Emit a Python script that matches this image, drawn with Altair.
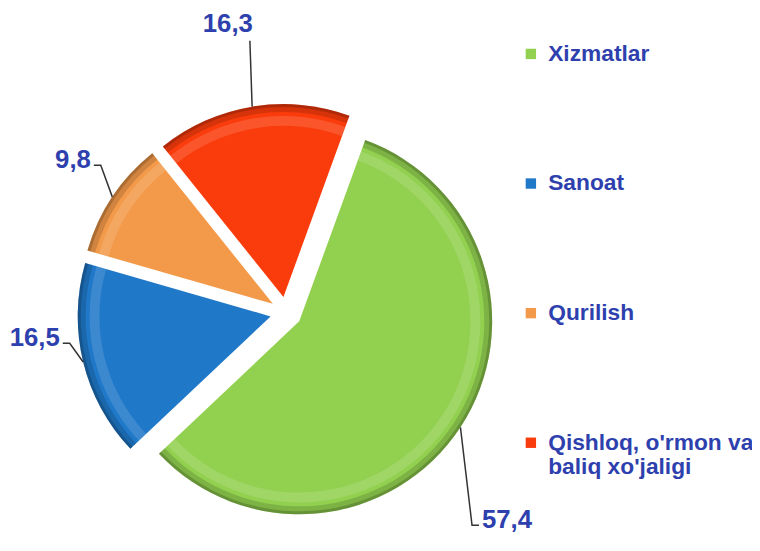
import math
import altair as alt
import pandas as pd

# ---- data -------------------------------------------------------------
categories = ["Xizmatlar", "Sanoat", "Qurilish", "Qishloq, o'rmon va baliq xo'jaligi"]
shares = [57.4, 16.5, 9.8, 16.3]
slice_colors = ["#92d050", "#1f78c8", "#f39a4a", "#fa3c0c"]

df = pd.DataFrame({"cat": categories, "share": shares,
                   "order": list(range(len(categories)))})
TOTAL = float(sum(shares))

# ---- layout -----------------------------------------------------------
W, H = 752, 543          # plot area (whole chart, autosize none)
CX, CY = 281, 305        # pie centre inside plot area
R = 195                  # pie radius
E = 16                   # explode distance
START = math.radians(20) # rotation of first slice
LABEL_COLOR = "#2e3fae"
FONT = "Liberation Sans"

xs = alt.Scale(domain=[-CX, W - CX], nice=False, zero=False)
ys = alt.Scale(domain=[-(H - CY), CY], nice=False, zero=False)
ts = alt.Scale(domain=[0, TOTAL], range=[START, START + 2 * math.pi])

base = (
    alt.Chart(df)
    .transform_window(cum="sum(share)", sort=[alt.SortField("order", order="ascending")],
                      frame=[None, 0])
    .transform_calculate(t0="datum.cum - datum.share")
    .transform_calculate(mid=f"{START} + 2*PI*(datum.t0 + datum.share/2)/{TOTAL}")
    .transform_calculate(s="sin(datum.mid)", c="cos(datum.mid)")
    .transform_calculate(
        ex=f"{E}*datum.s", ey=f"{E}*datum.c",
        side="abs(datum.s) < 0.35 ? 0 : (datum.s < 0 ? -1 : 1)",
        # leader elbow: rises for upper/side slices, drops for the low ones
        hx="14*datum.s",
        vy="datum.c > -0.35 ? 16 + 52*datum.c*datum.c : -180*abs(datum.c)",
    )
    .transform_calculate(
        p1x=f"{E + R}*datum.s", p1y=f"{E + R}*datum.c",
    )
    .transform_calculate(p2x="datum.p1x + datum.hx", p2y="datum.p1y + datum.vy")
)

theta = alt.Theta("t0:Q", scale=ts, stack=None)
theta2 = alt.Theta2("cum:Q")
px = alt.X("ex:Q", scale=xs, axis=None)
py = alt.Y("ey:Q", scale=ys, axis=None)

pie = base.mark_arc(radius=R).encode(
    x=px, y=py, theta=theta, theta2=theta2,
    color=alt.Color(
        "cat:N",
        sort=categories,
        scale=alt.Scale(domain=categories, range=slice_colors),
        legend=alt.Legend(
            title=None, orient="none", legendX=517, legendY=32,
            symbolType="square", symbolSize=110, symbolStrokeWidth=0,
            labelFont=FONT, labelFontSize=23, labelFontWeight="bold",
            labelColor=LABEL_COLOR, labelOffset=6, labelLimit=300,
            rowPadding=107, padding=0,
            labelExpr=("length(datum.label) > 19 ? "
                       "[slice(datum.label, 0, lastindexof(slice(datum.label, 0, 19), ' ')), "
                       "slice(datum.label, lastindexof(slice(datum.label, 0, 19), ' ') + 1)] "
                       ": datum.label"),
        ),
    ),
)

rim = base.mark_arc(radius=R, radius2=R - 8, color="#000000", opacity=0.14).encode(
    x=px, y=py, theta=theta, theta2=theta2)
rim2 = base.mark_arc(radius=R, radius2=R - 3, color="#000000", opacity=0.18).encode(
    x=px, y=py, theta=theta, theta2=theta2)
shine = base.mark_arc(radius=R - 12, radius2=R - 22, color="#ffffff", opacity=0.13).encode(
    x=px, y=py, theta=theta, theta2=theta2)

lines = (
    base.transform_calculate(pts="[0, 1, 2]")
    .transform_flatten(["pts"])
    .transform_calculate(
        lx="datum.pts == 0 ? datum.p1x : datum.p2x + (datum.pts == 2 ? 7*datum.side : 0)",
        ly="datum.pts == 0 ? datum.p1y : datum.p2y")
    .mark_line(color="#333333", strokeWidth=1.5)
    .encode(x=alt.X("lx:Q", scale=xs, axis=None), y=alt.Y("ly:Q", scale=ys, axis=None),
            detail="cat:N", order="pts:Q")
)

lab = base.transform_calculate(
    txt="replace(format(datum.share, '.1f'), '.', ',')",
    tx="datum.p2x + (datum.side == 0 ? 3 : datum.side*10)",
    ty="datum.p2y + (datum.side == 0 ? 4 : 0)",
)
tenc = dict(x=alt.X("tx:Q", scale=xs, axis=None), y=alt.Y("ty:Q", scale=ys, axis=None),
            text="txt:N")
tstyle = dict(font=FONT, fontSize=26, fontWeight="bold", color=LABEL_COLOR)

left = lab.transform_filter("datum.side < 0").mark_text(
    align="right", baseline="middle", dy=-5, **tstyle).encode(**tenc)
right = lab.transform_filter("datum.side > 0").mark_text(
    align="left", baseline="middle", dy=-5, **tstyle).encode(**tenc)
top = lab.transform_filter("datum.side == 0").mark_text(
    align="right", baseline="bottom", **tstyle).encode(**tenc)

chart = (
    alt.layer(pie, rim, rim2, shine, lines, left, right, top)
    .properties(width=W, height=H, padding=0,
                autosize=alt.AutoSizeParams(type="none"), background="white")
    .configure_view(stroke=None)
)

chart.save("out.html", embed_options={"renderer": "svg", "actions": False})
